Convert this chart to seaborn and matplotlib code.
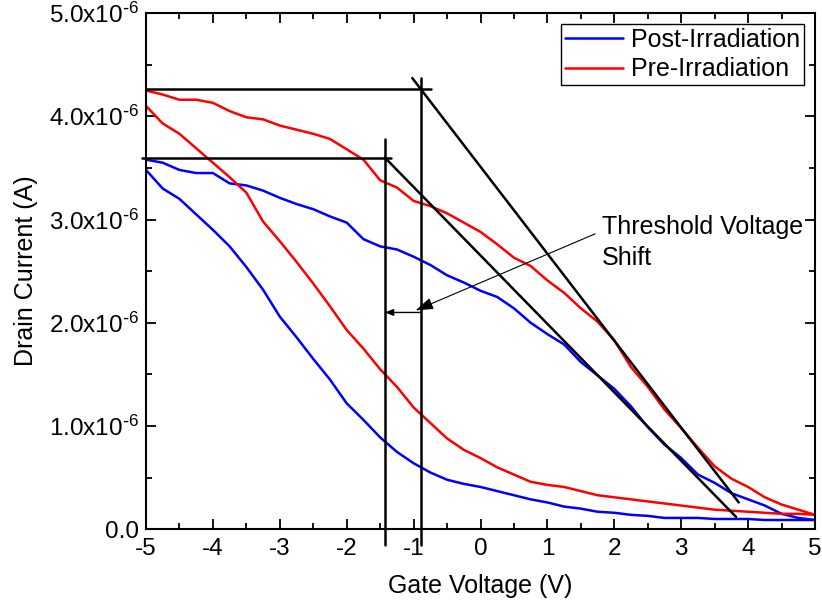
import numpy as np
import pandas as pd
import matplotlib
matplotlib.use("Agg")
import matplotlib.pyplot as plt
from matplotlib.ticker import MultipleLocator, FixedLocator, FixedFormatter
from matplotlib.lines import Line2D
import seaborn as sns

# ==================== data ====================
gate_v = [-5.0, -4.75, -4.5, -4.25, -4.0, -3.75, -3.5, -3.25, -3.0, -2.75,
          -2.5, -2.25, -2.0, -1.75, -1.5, -1.25, -1.0, -0.75, -0.5, -0.25,
          0.0, 0.25, 0.5, 0.75, 1.0, 1.25, 1.5, 1.75, 2.0, 2.25,
          2.5, 2.75, 3.0, 3.25, 3.5, 3.75, 4.0, 4.25, 4.5, 4.75, 5.0]

# drain current in uA
pre_upper = [4.25, 4.21, 4.16, 4.16, 4.13, 4.05, 3.99, 3.97, 3.91, 3.87,
             3.83, 3.78, 3.68, 3.58, 3.38, 3.31, 3.18, 3.13, 3.06, 2.97,
             2.88, 2.76, 2.63, 2.55, 2.41, 2.29, 2.14, 2.01, 1.83, 1.57,
             1.38, 1.16, 0.98, 0.79, 0.61, 0.49, 0.41, 0.31, 0.24, 0.19, 0.14]
pre_lower = [4.10, 3.93, 3.83, 3.69, 3.55, 3.41, 3.26, 2.98, 2.79, 2.59,
             2.38, 2.16, 1.93, 1.75, 1.55, 1.38, 1.18, 1.03, 0.88, 0.77,
             0.69, 0.60, 0.53, 0.46, 0.43, 0.41, 0.37, 0.33, 0.31, 0.29,
             0.27, 0.25, 0.23, 0.21, 0.19, 0.18, 0.17, 0.16, 0.15, 0.15, 0.14]
post_upper = [3.58, 3.55, 3.48, 3.45, 3.45, 3.35, 3.33, 3.28, 3.21, 3.15,
              3.10, 3.03, 2.97, 2.81, 2.74, 2.71, 2.64, 2.56, 2.46, 2.39,
              2.31, 2.25, 2.14, 2.00, 1.89, 1.79, 1.62, 1.49, 1.36, 1.19,
              0.99, 0.82, 0.69, 0.53, 0.45, 0.35, 0.29, 0.23, 0.15, 0.11, 0.09]
post_lower = [3.48, 3.30, 3.20, 3.05, 2.90, 2.74, 2.54, 2.32, 2.06, 1.86,
              1.65, 1.45, 1.22, 1.06, 0.89, 0.75, 0.64, 0.55, 0.48, 0.44,
              0.41, 0.37, 0.33, 0.29, 0.26, 0.22, 0.20, 0.17, 0.16, 0.14,
              0.13, 0.11, 0.11, 0.11, 0.10, 0.10, 0.10, 0.09, 0.09, 0.09, 0.09]

# threshold construction (V, uA)
vth_pre = -0.89
vth_post = -1.43
ion_pre = 4.26
ion_post = 3.60
tangent_pre = ([-1.02, 3.86], [4.37, 0.26])
tangent_post = ([-1.43, 3.82], [3.60, 0.12])
shift_level = 2.10

labels = ["Post-Irradiation", "Pre-Irradiation"]
colors = {"Post-Irradiation": "#0000FF", "Pre-Irradiation": "#FF0000"}
ytick_labels = ["0.0"] + [r"$%d.0x10^{\text{-}6}$" % n for n in range(1, 6)]

# ==================== long table ====================
rows = []
for cond, sweep, vals in [("Post-Irradiation", "up", post_upper),
                          ("Post-Irradiation", "down", post_lower),
                          ("Pre-Irradiation", "up", pre_upper),
                          ("Pre-Irradiation", "down", pre_lower)]:
    for v, i in zip(gate_v, vals):
        rows.append({"vg": v, "id": i * 1e-6, "cond": cond, "sweep": cond + sweep})
df = pd.DataFrame(rows)

# ==================== style ====================
sns.set_style("ticks")
plt.rcParams["font.family"] = ["Liberation Sans", "DejaVu Sans"]
plt.rcParams["mathtext.default"] = "regular"
plt.rcParams["axes.unicode_minus"] = False
plt.rcParams["text.color"] = "black"
plt.rcParams["axes.labelcolor"] = "black"

FS = 18

fig = plt.figure(figsize=(8.22, 6.07), dpi=100)
ax = fig.add_axes([0.1776, 0.128, 0.8139, 0.8506])

sns.lineplot(data=df, x="vg", y="id", hue="cond", units="sweep", estimator=None,
             sort=False, hue_order=labels, palette=colors, lw=1.8, ax=ax, legend=False)

# threshold lines
k = dict(color="black", lw=1.8, clip_on=False, zorder=5)
ax.plot([-5.0, -0.74], [ion_pre * 1e-6] * 2, **k)
ax.plot([-5.06, -1.34], [ion_post * 1e-6] * 2, **k)
ax.plot([vth_pre] * 2, [-0.15e-6, 4.37e-6], **k)
ax.plot([vth_post] * 2, [-0.15e-6, 3.78e-6], **k)
ax.plot(tangent_pre[0], np.array(tangent_pre[1]) * 1e-6, **k)
ax.plot(tangent_post[0], np.array(tangent_post[1]) * 1e-6, **k)

ax.annotate("", xy=(vth_post, shift_level * 1e-6), xytext=(vth_pre, shift_level * 1e-6),
            arrowprops=dict(arrowstyle="-|>,head_length=0.5,head_width=0.2", color="black",
                            lw=1.0, shrinkA=0, shrinkB=0))
ax.annotate("Threshold Voltage\nShift", xy=(-0.97, 2.12e-6), xytext=(1.82, 3.04e-6),
            fontsize=FS, ha="left", va="top", linespacing=1.37, color="black",
            arrowprops=dict(arrowstyle="-|>,head_length=0.6,head_width=0.2", color="black",
                            lw=0.8, shrinkA=3, shrinkB=0, relpos=(0, 0.72)))

# axes
ax.set_xlim(-5, 5)
ax.set_ylim(0, 5e-6)
ax.xaxis.set_major_locator(MultipleLocator(1))
ax.xaxis.set_minor_locator(MultipleLocator(0.5))
ax.yaxis.set_major_locator(FixedLocator([0, 1e-6, 2e-6, 3e-6, 4e-6, 5e-6]))
ax.yaxis.set_major_formatter(FixedFormatter(ytick_labels))
ax.yaxis.set_minor_locator(MultipleLocator(0.5e-6))
ax.tick_params(which="both", direction="in", top=True, right=True, width=1.3,
               labelsize=17.5, color="black", labelcolor="black")
ax.tick_params(which="major", length=7)
ax.tick_params(which="minor", length=4)
ax.tick_params(axis="x", pad=6)
ax.tick_params(axis="y", pad=5)
for s in ax.spines.values():
    s.set_linewidth(1.5)
    s.set_color("black")

ax.set_xlabel("Gate Voltage (V)", fontsize=FS, labelpad=10)
ax.set_ylabel("Drain Current (A)", fontsize=FS, labelpad=8)

handles = [Line2D([], [], color=colors[l], lw=1.8) for l in labels]
leg = ax.legend(handles, labels, loc="upper right", fontsize=FS, fancybox=False,
                framealpha=1, edgecolor="black", handlelength=2.35, borderpad=0.15,
                labelspacing=0.22, handletextpad=0.3, borderaxespad=0.45)
leg.get_frame().set_linewidth(1.0)

fig.savefig("out.png", dpi=100)
